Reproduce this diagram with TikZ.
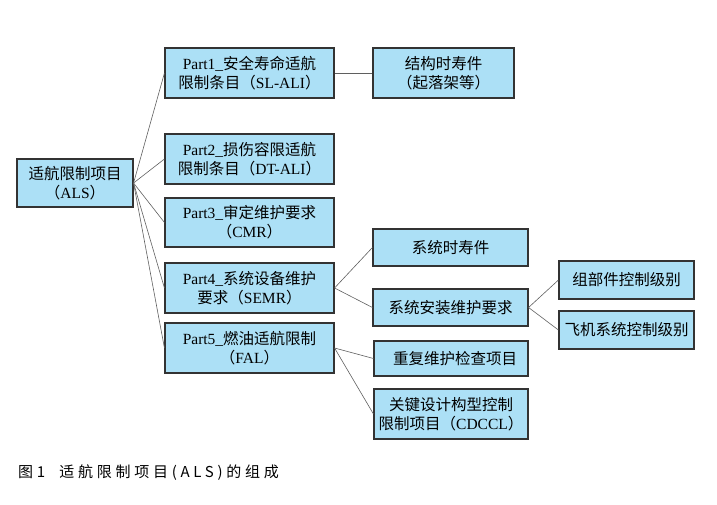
\documentclass[tikz,border=0pt]{standalone}
\usepackage{fontspec}
\setmainfont{Liberation Serif}
\newfontfamily\cjk{Noto Sans CJK SC}
\newfontfamily\cjkwide[LetterSpace=25]{Noto Sans CJK SC}
\newcommand{\zh}[1]{{\cjk #1}}

\definecolor{boxblue}{RGB}{172,224,246}
\definecolor{edgegray}{RGB}{95,95,95}

\tikzset{
	itembox/.style={draw=black!80, line width=1.1pt, fill=boxblue, align=center,
		inner sep=0pt, font=\fontsize{15.5}{19}\selectfont},
	link/.style={draw=edgegray, line width=0.6pt},
}

\begin{document}
\begin{tikzpicture}[x=1pt, y=-1pt]
	\useasboundingbox (0,0) rectangle (717,505);
	
	% Root of the tree
	\node[itembox, minimum width=116pt, minimum height=48pt] (als) at (75,183)
	{\zh{适航限制项目}\\\zh{（}ALS\zh{）}};
	
	% The five parts
	\node[itembox, minimum width=169pt, minimum height=50pt] (p1) at (249.5,73)
	{Part1\_\zh{安全寿命适航}\\\zh{限制条目（}SL-ALI\zh{）}};
	\node[itembox, minimum width=169pt, minimum height=50pt] (p2) at (249.5,159)
	{Part2\_\zh{损伤容限适航}\\\zh{限制条目（}DT-ALI\zh{）}};
	\node[itembox, minimum width=169pt, minimum height=49pt] (p3) at (249.5,222.5)
	{Part3\_\zh{审定维护要求}\\\zh{（}CMR\zh{）}};
	\node[itembox, minimum width=169pt, minimum height=50pt] (p4) at (249.5,288)
	{Part4\_\zh{系统设备维护}\\\zh{要求（}SEMR\zh{）}};
	\node[itembox, minimum width=169pt, minimum height=50pt] (p5) at (249.5,348)
	{Part5\_\zh{燃油适航限制}\\\zh{（}FAL\zh{）}};
	
	% Third level
	\node[itembox, minimum width=141pt, minimum height=50pt] (life) at (443.5,73)
	{\zh{结构时寿件}\\\zh{（起落架等）}};
	\node[itembox, minimum width=155pt, minimum height=37pt] (syslife) at (450.5,247.5)
	{\zh{系统时寿件}};
	\node[itembox, minimum width=155pt, minimum height=37pt] (sysmaint) at (450.5,307.5)
	{\zh{系统安装维护要求}};
	\node[itembox, minimum width=154pt, minimum height=35pt] (repeat) at (451,358.5)
	{\hspace{8pt}\zh{重复维护检查项目}};
	\node[itembox, minimum width=154pt, minimum height=50pt] (cdccl) at (451,414)
	{\zh{关键设计构型控制}\\\zh{限制项目（}CDCCL\zh{）}};
	
	% Fourth level
	\node[itembox, minimum width=135pt, minimum height=38pt] (comp) at (626.5,280)
	{\zh{组部件控制级别}};
	\node[itembox, minimum width=135pt, minimum height=38pt] (plane) at (626.5,330)
	{\zh{飞机系统控制级别}};
	
	% Connectors
	\foreach \p in {p1,p2,p3,p4,p5}
	\draw[link] (als.east) -- (\p.west);
	\draw[link] (p1.east) -- (life.west);
	\draw[link] (p4.east) -- (syslife.west);
	\draw[link] (p4.east) -- (sysmaint.west);
	\draw[link] (sysmaint.east) -- (comp.west);
	\draw[link] (sysmaint.east) -- (plane.west);
	\draw[link] (p5.east) -- (repeat.west);
	\draw[link] (p5.east) -- (cdccl.west);
	
	% Caption
	\node[anchor=west, inner sep=0pt, font=\fontsize{15}{18}\selectfont\cjkwide] (caption) at (18,473)
	{图1\hspace{14pt}适航限制项目(ALS)的组成};
\end{tikzpicture}
\end{document}
